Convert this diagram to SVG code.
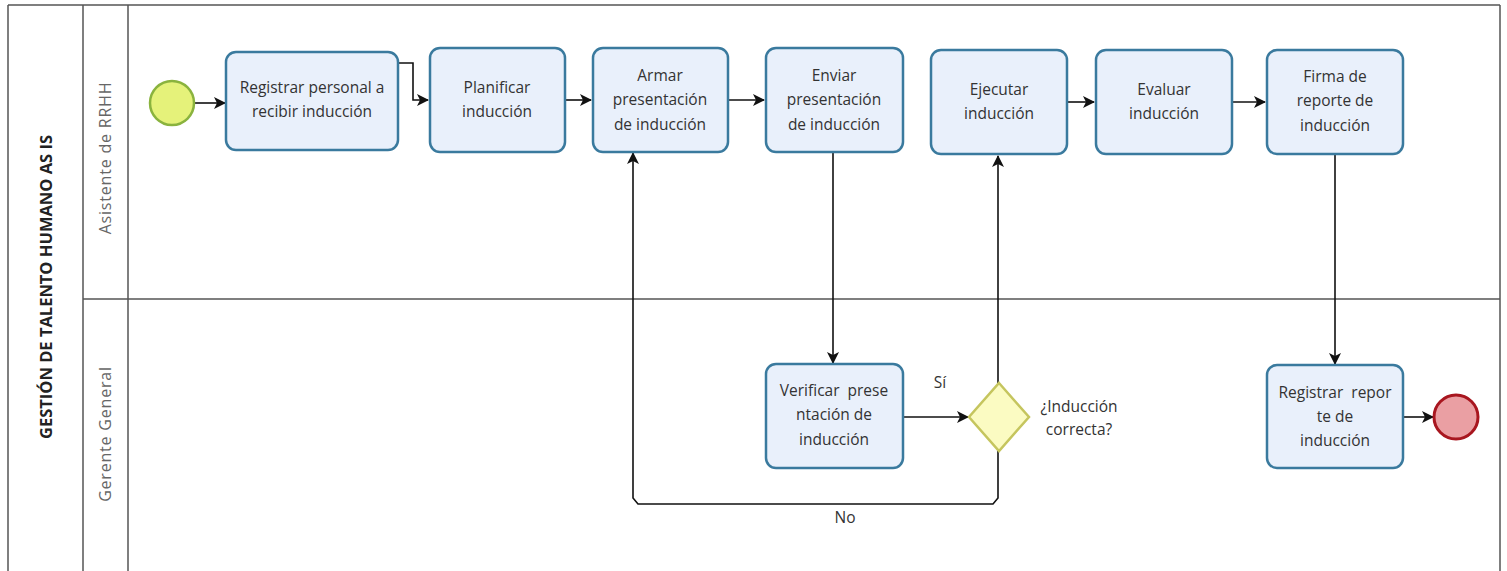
<svg xmlns="http://www.w3.org/2000/svg" width="1507" height="571" viewBox="0 0 1507 571">
  <style>
    text { font-family: "Open Sans", "Liberation Sans", sans-serif; fill: #333; }
    .task rect { fill: #e9f0fb; stroke: #3a7a9e; stroke-width: 2.5; }
    .task text { font-size: 15.5px; text-anchor: middle; }
    .lane { font-size: 16px; letter-spacing: 0.8px; fill: #666; text-anchor: middle; }
    .pool { font-size: 16.5px; font-weight: bold; fill: #222; text-anchor: middle; }
    .frame { fill: none; stroke: #555; stroke-width: 1.5; }
    .flow { fill: none; stroke: #111; stroke-width: 1.6; }
    .lbl { font-size: 15.5px; text-anchor: middle; }
  </style>
  <defs>
    <marker id="arrow" viewBox="0 0 12 12" refX="11" refY="6" markerWidth="12" markerHeight="12" markerUnits="userSpaceOnUse" orient="auto">
      <path d="M0,0 L12,6 L0,12 L3,6 Z" fill="#111"/>
    </marker>
  </defs>

  <rect width="1507" height="571" fill="#fff"/>

  <!-- pool and lanes -->
  <g id="pool">
    <line class="frame" x1="8" y1="5" x2="1500" y2="5" stroke="#888"/>
    <line class="frame" x1="8" y1="5" x2="8" y2="571"/>
    <line class="frame" x1="83" y1="5" x2="83" y2="571"/>
    <line class="frame" x1="128" y1="5" x2="128" y2="571"/>
    <line class="frame" x1="1500" y1="5" x2="1500" y2="571"/>
    <line class="frame" x1="83" y1="299" x2="1500" y2="299"/>
    <text class="pool" transform="translate(52,287) rotate(-90)">GESTIÓN DE TALENTO HUMANO AS IS</text>
    <text class="lane" transform="translate(111,158) rotate(-90)">Asistente de RRHH</text>
    <text class="lane" transform="translate(111,434) rotate(-90)">Gerente General</text>
  </g>

  <!-- connectors -->
  <g id="connectors">
    <line class="flow" x1="194" y1="103" x2="225" y2="103" marker-end="url(#arrow)"/>
    <polyline class="flow" points="398,63 413,63 413,100 428,100" marker-end="url(#arrow)"/>
    <line class="flow" x1="565" y1="100" x2="591" y2="100" marker-end="url(#arrow)"/>
    <line class="flow" x1="728" y1="100" x2="764" y2="100" marker-end="url(#arrow)"/>
    <line class="flow" x1="833" y1="152" x2="833" y2="363" marker-end="url(#arrow)"/>
    <line class="flow" x1="903" y1="417" x2="968" y2="417" marker-end="url(#arrow)"/>
    <line class="flow" x1="998" y1="383" x2="998" y2="156" marker-end="url(#arrow)"/>
    <polyline class="flow" points="998,450 998,498 993,504 638,504 633,498 633,153" marker-end="url(#arrow)"/>
    <line class="flow" x1="1067" y1="102" x2="1094" y2="102" marker-end="url(#arrow)"/>
    <line class="flow" x1="1232" y1="102" x2="1265" y2="102" marker-end="url(#arrow)"/>
    <line class="flow" x1="1335" y1="154" x2="1335" y2="364" marker-end="url(#arrow)"/>
    <line class="flow" x1="1403" y1="417" x2="1433" y2="417" marker-end="url(#arrow)"/>
    <text class="lbl" x="940" y="388">Sí</text>
    <text class="lbl" x="845" y="523">No</text>
  </g>

  <g id="start">
    <circle cx="172" cy="103" r="22" fill="#e5f27a" stroke="#8ab33e" stroke-width="2.5"/>
  </g>

  <g id="t1" class="task">
    <rect x="226" y="52" width="172" height="98" rx="10"/>
    <text x="312" y="93">Registrar personal a</text>
    <text x="312" y="117">recibir inducción</text>
  </g>
  <g id="t2" class="task">
    <rect x="430" y="48" width="135" height="104" rx="10"/>
    <text x="497" y="93">Planificar</text>
    <text x="497" y="117">inducción</text>
  </g>
  <g id="t3" class="task">
    <rect x="593" y="48" width="135" height="104" rx="10"/>
    <text x="660" y="81">Armar</text>
    <text x="660" y="105">presentación</text>
    <text x="660" y="130">de inducción</text>
  </g>
  <g id="t4" class="task">
    <rect x="766" y="48" width="137" height="104" rx="10"/>
    <text x="834" y="81">Enviar</text>
    <text x="834" y="105">presentación</text>
    <text x="834" y="130">de inducción</text>
  </g>
  <g id="t5" class="task">
    <rect x="931" y="50" width="136" height="104" rx="10"/>
    <text x="999" y="95">Ejecutar</text>
    <text x="999" y="119">inducción</text>
  </g>
  <g id="t6" class="task">
    <rect x="1096" y="50" width="136" height="104" rx="10"/>
    <text x="1164" y="95">Evaluar</text>
    <text x="1164" y="119">inducción</text>
  </g>
  <g id="t7" class="task">
    <rect x="1267" y="50" width="136" height="104" rx="10"/>
    <text x="1335" y="82">Firma de</text>
    <text x="1335" y="106">reporte de</text>
    <text x="1335" y="131">inducción</text>
  </g>
  <g id="t8" class="task">
    <rect x="766" y="364" width="137" height="104" rx="10"/>
    <text x="834" y="396" xml:space="preserve">Verificar  prese</text>
    <text x="834" y="420">ntación de</text>
    <text x="834" y="445">inducción</text>
  </g>
  <g id="gw">
    <polygon points="999,383 1029,417 999,451 969,417" fill="#fbfbc2" stroke="#c5c55e" stroke-width="2.5"/>
    <text class="lbl" x="1079" y="412">¿Inducción</text>
    <text class="lbl" x="1079" y="435">correcta?</text>
  </g>
  <g id="t9" class="task">
    <rect x="1267" y="365" width="136" height="103" rx="10"/>
    <text x="1335" y="398" xml:space="preserve">Registrar  repor</text>
    <text x="1335" y="422">te de</text>
    <text x="1335" y="446">inducción</text>
  </g>
  <g id="end">
    <circle cx="1456" cy="417" r="22" fill="#ea9fa3" stroke="#a8161f" stroke-width="3"/>
  </g>
</svg>
